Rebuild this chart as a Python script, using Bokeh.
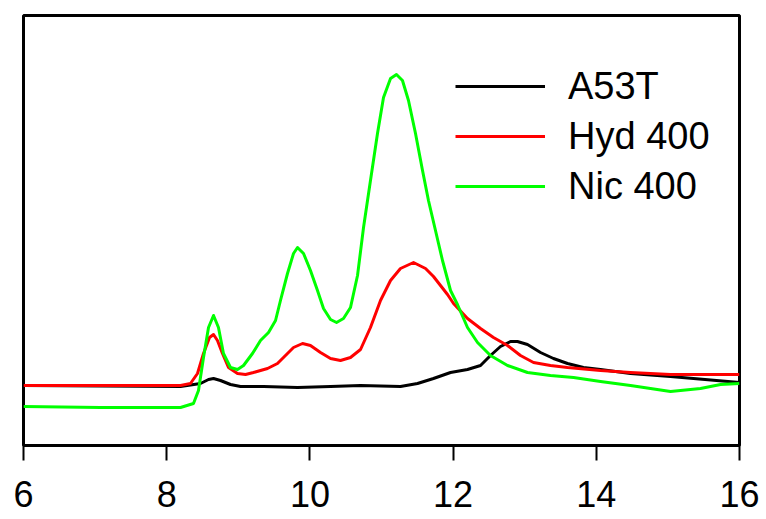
from bokeh.plotting import figure
from bokeh.models import Legend, LegendItem, FixedTicker, Range1d
from bokeh.embed import file_html
from bokeh.resources import INLINE

# Elution volume (ml) and detector signal (arbitrary units)
a53t_x = [6.000, 8.193, 8.472, 8.584, 8.654, 8.751, 8.891, 9.031, 9.352, 9.827, 10.288, 10.707, 11.265,
          11.503, 11.726, 11.964, 12.201, 12.383, 12.522, 12.662, 12.802, 12.899, 13.039, 13.221, 13.402,
          13.598, 13.821, 14.059, 14.478, 15.036, 16.000]
a53t_y = [60, 59, 62, 66, 67, 65, 61, 59, 59, 58, 59, 60, 59,
          62, 67, 73, 76, 80, 90, 99, 104, 104, 101, 93, 87,
          82, 78, 76, 72, 69, 63]

hyd_x = [6.000, 8.193, 8.332, 8.430, 8.514, 8.598, 8.654, 8.709, 8.779, 8.863, 8.989, 9.101, 9.212,
         9.408, 9.547, 9.659, 9.771, 9.897, 10.008, 10.148, 10.288, 10.427, 10.567, 10.707, 10.846,
         10.986, 11.126, 11.265, 11.447, 11.615, 11.726, 11.824, 11.922, 12.006, 12.201, 12.383, 12.564,
         12.760, 12.941, 13.123, 13.360, 13.598, 14.059, 14.478, 15.036, 16.000]
hyd_y = [60, 60, 62, 72, 92, 108, 111, 105, 92, 78, 72, 71, 73,
         77, 82, 90, 98, 102, 100, 93, 87, 85, 88, 96, 118,
         145, 165, 177, 183, 177, 169, 160, 151, 142, 127, 117, 108,
         100, 90, 83, 80, 78, 75, 73, 71, 71]

nic_x = [6.000, 7.075, 8.193, 8.374, 8.444, 8.514, 8.584, 8.654, 8.723, 8.793, 8.891, 8.989, 9.073,
         9.198, 9.310, 9.422, 9.520, 9.589, 9.687, 9.771, 9.827, 9.911, 10.008, 10.106, 10.190, 10.288,
         10.372, 10.469, 10.567, 10.665, 10.749, 10.846, 10.944, 11.028, 11.126, 11.209, 11.293, 11.377,
         11.475, 11.573, 11.656, 11.754, 11.852, 11.964, 12.061, 12.201, 12.341, 12.522, 12.760, 13.039,
         13.360, 13.682, 14.059, 14.478, 15.036, 15.455, 15.735, 16.000]
nic_y = [39, 38, 38, 42, 55, 88, 118, 130, 118, 92, 78, 76, 80,
         92, 105, 113, 125, 145, 172, 192, 198, 192, 175, 155, 137, 126,
         123, 127, 138, 170, 218, 265, 312, 348, 367, 371, 365, 345,
         312, 275, 245, 215, 185, 155, 141, 118, 103, 90, 80, 73,
         70, 68, 64, 60, 54, 57, 61, 62]

series_names = ["A53T", "Hyd 400", "Nic 400"]
series_colors = ["#000000", "#FF0000", "#00FF00"]
x_ticks = [6, 8, 10, 12, 14, 16]

p = figure(width=766, height=519, output_backend="svg", toolbar_location=None,
           x_range=Range1d(6, 16), y_range=Range1d(0, 430),
           y_axis_location=None, min_border_left=23, min_border_right=27,
           min_border_top=15, min_border_bottom=74)
p.grid.visible = False
p.outline_line_color = "black"
p.outline_line_width = 3
p.outline_line_alpha = 1
p.background_fill_color = "white"
p.border_fill_color = "white"

renderers = []
for xs, ys, c in zip([a53t_x, hyd_x, nic_x], [a53t_y, hyd_y, nic_y], series_colors):
    r = p.line(xs, ys, line_color=c, line_width=3, line_join="round")
    renderers.append(r)

ax = p.xaxis[0]
ax.ticker = FixedTicker(ticks=x_ticks)
ax.axis_line_width = 3
ax.major_tick_line_width = 2
ax.major_tick_out = 15
ax.major_tick_in = 0
ax.minor_tick_line_color = None
ax.major_label_text_font = "Liberation Sans"
ax.major_label_text_font_size = "36px"
ax.major_label_text_color = "black"
ax.major_label_standoff = 20

legend = Legend(items=[LegendItem(label=n, renderers=[r]) for n, r in zip(series_names, renderers)],
                location=(432, 234), padding=0, margin=0, spacing=0,
                glyph_width=90, glyph_height=50, label_height=50, label_standoff=23,
                label_text_font="Liberation Sans", label_text_font_size="38px",
                label_text_color="black",
                border_line_color=None, background_fill_alpha=0)
p.add_layout(legend, "center")

open("out.html", "w").write(file_html(p, INLINE))
